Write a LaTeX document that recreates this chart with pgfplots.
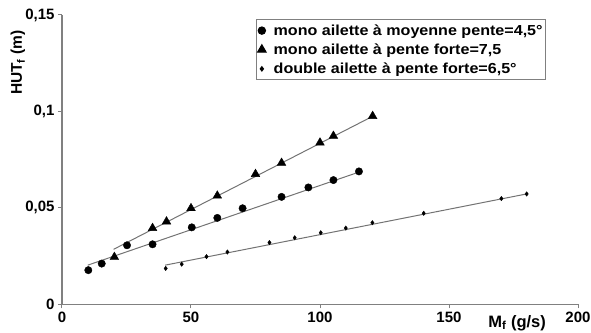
\documentclass[border=0pt]{standalone}
\usepackage{fontspec}
\setmainfont{Liberation Sans}
\usepackage{pgfplots}
\pgfplotsset{compat=1.18}
\definecolor{axgray}{gray}{0.5}
\definecolor{lngray}{gray}{0.45}
\newcommand{\legtxt}[1]{\hspace{6bp}\scalebox{1.11}[1]{#1}}
\begin{document}
\begin{tikzpicture}
\useasboundingbox (-62bp,-28.7bp) rectangle (529bp,304.3bp);
\begin{axis}[
  at={(0,0)}, anchor=origin,
  scale only axis, width=516bp, height=289.3bp,
  xmin=0, xmax=200, ymin=0, ymax=0.15,
  axis lines=left,
  axis line style={axgray, line width=1.2bp, -},
  xtick={0,50,100,150,200}, ytick={0,0.05,0.1,0.15},
  xticklabels={0,50,100,150,200},
  yticklabels={0,{0,05},{0,1},{0,15}},
  tick align=outside, major tick length=4bp,
  tick style={axgray, line width=1bp},
  ticklabel style={font=\fontsize{15bp}{18bp}\selectfont\bfseries},
  xlabel={M\textsubscript{f} (g/s)},
  xlabel style={at={(axis description cs:0.882,-0.064)}, anchor=center, font=\fontsize{16.5bp}{18bp}\selectfont\bfseries},
  ylabel={HUT\textsubscript{f} (m)},
  ylabel style={at={(axis description cs:-0.0853,0.835)}, anchor=center, font=\fontsize{15.5bp}{18bp}\selectfont\bfseries},
  legend style={at={(axis description cs:0.376,0.986)}, anchor=north west,
    draw=axgray, line width=1bp, font=\fontsize{14.5bp}{17bp}\selectfont\bfseries,
    inner xsep=1bp, inner ysep=3bp, row sep=3bp,
    nodes={inner xsep=1.5bp}},
  legend cell align=left,
]
% regression lines
\addplot[lngray, line width=1bp, forget plot] coordinates {(10,0.0203) (115,0.0685)};
\addplot[lngray, line width=1bp, forget plot] coordinates {(20,0.0285) (120,0.0972)};
\addplot[lngray, line width=1bp, forget plot] coordinates {(40,0.0203) (180,0.0572)};
% data
\addplot[only marks, mark=*, mark size=3.7bp, black] coordinates {
 (10.2,0.0177) (15.4,0.0211) (25.2,0.0306) (35.1,0.0311) (50.3,0.0399) (60.2,0.0448)
 (70,0.0498) (85.1,0.0557) (95.5,0.0606) (105.2,0.0644) (115.1,0.0689)};
\addlegendentry{\legtxt{mono ailette à moyenne pente=4,5°}}
\addplot[only marks, mark=triangle*, mark size=5bp, black] coordinates {
 (20.3,0.0245) (35.1,0.0395) (40.5,0.0429) (50,0.0498) (60.2,0.0563) (75,0.0675)
 (85.1,0.0733) (100,0.0838) (105.2,0.0873) (120.4,0.0976)};
\addlegendentry{\legtxt{mono ailette à pente forte=7,5}}
\addplot[only marks, mark=diamond*, mark size=2.2bp, black] coordinates {
 (40.2,0.0186) (46.4,0.0208) (56,0.0247) (64.1,0.0271) (80.4,0.032) (90.2,0.0345)
 (100.3,0.0371) (110,0.0395) (120.3,0.0423) (140.2,0.0472) (170.3,0.0548) (180.1,0.0572)};
\addlegendentry{\legtxt{double ailette à pente forte=6,5°}}
\end{axis}
\end{tikzpicture}
\end{document}
